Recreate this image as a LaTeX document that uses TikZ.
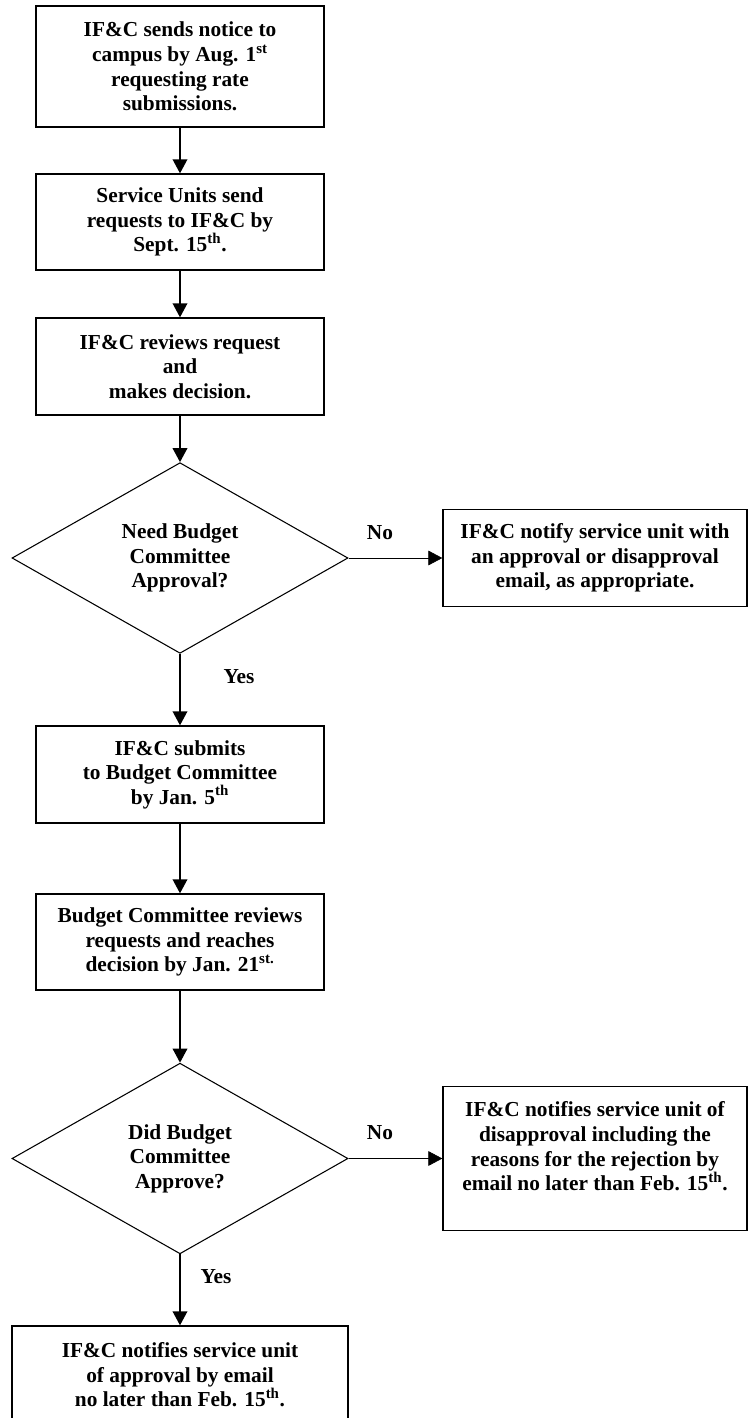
\documentclass[tikz,border=0pt]{standalone}
\usepackage{fontspec}
\setmainfont{Liberation Serif}
\usetikzlibrary{shapes.geometric,arrows.meta}

\tikzset{
  stepbox/.style={draw,line width=1pt,align=center,inner sep=0pt,minimum width=216pt},
  decide/.style={draw,diamond,line width=0.8pt,align=center,inner sep=0pt,
    shape aspect=1.76,minimum width=252pt,minimum height=143pt},
  flow/.style={line width=1pt,-{Triangle[length=10.5pt,width=11pt]}},
  noflow/.style={line width=0.5pt,-{Triangle[length=10.5pt,width=11pt]}},
  lbl/.style={inner sep=0pt},
}

\begin{document}
\begin{tikzpicture}[x=0.75pt,y=-0.75pt,font=\fontsize{16}{18.4}\selectfont\bfseries]
\useasboundingbox (0,0) rectangle (749,1418);
% main column
\node[stepbox,minimum height=90.75pt] (s1) at (180,66.5) {IF\&C sends notice to\\campus by Aug. 1\textsuperscript{st}\\requesting rate\\submissions.};
\node[stepbox,minimum height=72pt] (s2) at (180,222) {Service Units send\\requests to IF\&C by\\Sept. 15\textsuperscript{th}.};
\node[stepbox,minimum height=72.75pt] (s3) at (180,366.5) {IF\&C reviews request\\and\\makes decision.};
\node[decide] (d1) at (180,558) {Need Budget\\Committee\\Approval?};
\node[stepbox,minimum height=72.75pt] (s4) at (180,774.5) {IF\&C submits\\to Budget Committee\\by Jan. 5\textsuperscript{th}};
\node[stepbox,minimum height=72pt] (s5) at (180,942) {Budget Committee reviews\\requests and reaches\\decision by Jan. 21\textsuperscript{st.}};
\node[decide] (d2) at (180,1158.5) {Did Budget\\Committee\\Approve?};
\node[stepbox,minimum width=252pt,minimum height=73.5pt] (s6) at (180,1375) {IF\&C notifies service unit\\of approval by email\\no later than Feb. 15\textsuperscript{th}.};
% side boxes
\node[stepbox,minimum width=228pt,minimum height=72.75pt] (r1) at (595,558) {IF\&C notify service unit with\\an approval or disapproval\\email, as appropriate.};
\node[stepbox,minimum width=228pt,minimum height=108pt] (r2) at (595,1158.5) {IF\&C notifies service unit of\\disapproval including the\\reasons for the rejection by\\email no later than Feb. 15\textsuperscript{th}.\\\mbox{}};
% labels
\node[lbl] (no1) at (380,533) {No};
\node[lbl] (yes1) at (239,677) {Yes};
\node[lbl] (no2) at (380,1133) {No};
\node[lbl] (yes2) at (216,1277) {Yes};
% arrows
\draw[flow] (s1) -- (s2);
\draw[flow] (s2) -- (s3);
\draw[flow] (s3) -- (d1);
\draw[flow] (d1) -- (s4);
\draw[noflow] (d1) -- (r1);
\draw[flow] (s4) -- (s5);
\draw[flow] (s5) -- (d2);
\draw[flow] (d2) -- (s6);
\draw[noflow] (d2) -- (r2);
\end{tikzpicture}
\end{document}
